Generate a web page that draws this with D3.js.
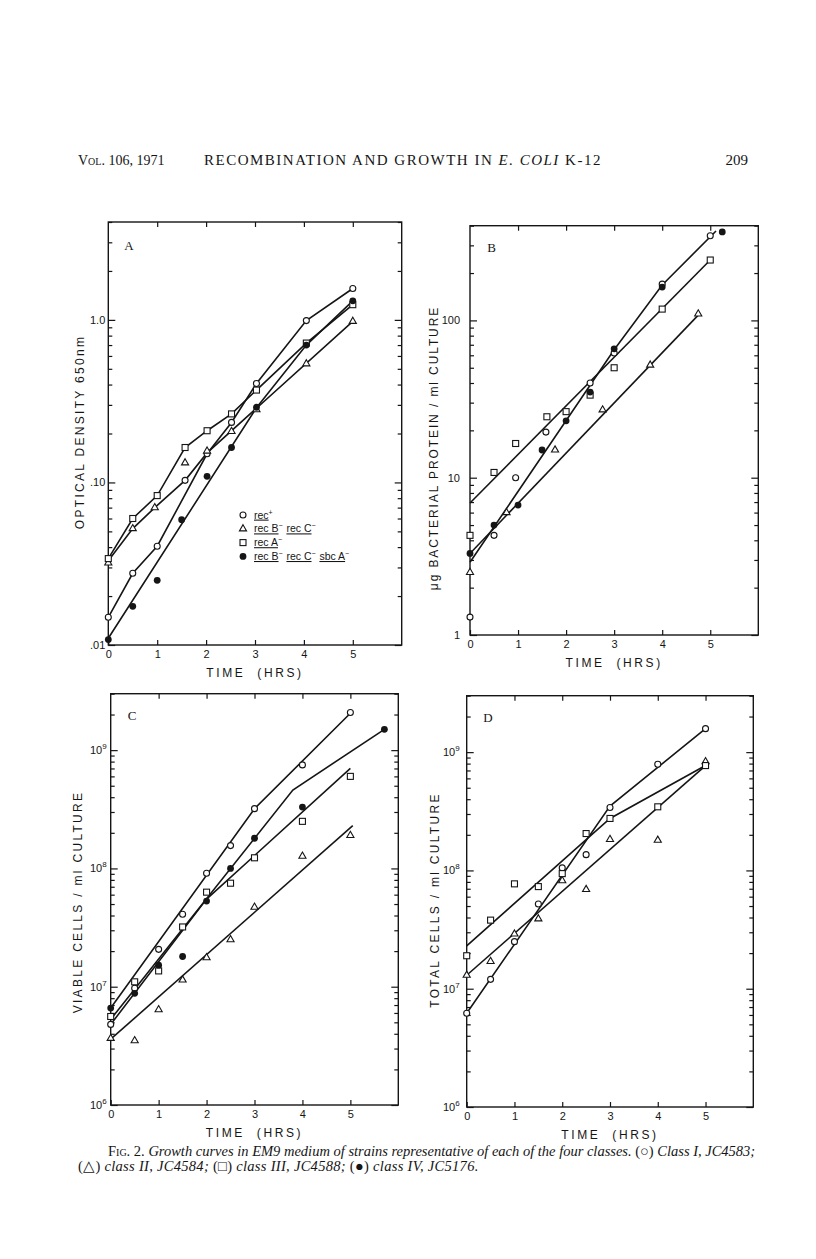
<!DOCTYPE html>
<html>
<head>
<meta charset="utf-8">
<script src="https://cdn.jsdelivr.net/npm/d3@7"></script>
<style>
body { margin: 0; background: #fff; }
text { fill: #151515; }
</style>
</head>
<body>
<svg id="page" width="816" height="1259"></svg>
<script>
// ---- data (time in hours) ----
const timeTicks = [0, 1, 2, 3, 4, 5];

// panel A : optical density 650nm
const aOpen   = [[0,0.0148],[0.5,0.0276],[1,0.0405],[1.57,0.103],[2.02,0.15],[2.52,0.234],[3.03,0.406],[4.05,0.99],[5,1.56]];
const aTri    = [[0,0.032],[0.5,0.052],[0.95,0.07],[1.57,0.132],[2.02,0.156],[2.52,0.206],[3.03,0.28],[4.05,0.537],[5,0.98]];
const aSquare = [[0,0.034],[0.5,0.06],[1,0.083],[1.57,0.164],[2.02,0.208],[2.52,0.264],[3.03,0.37],[4.05,0.72],[5,1.24]];
const aFilled = [[0,0.0108],[0.5,0.0173],[1,0.025],[1.5,0.059],[2.02,0.109],[2.52,0.164],[3.03,0.29],[4.05,0.70],[5,1.31]];
const aLines = [
  [[0,0.0148],[0.5,0.0276],[1,0.0405],[2.02,0.15],[2.52,0.234],[3.03,0.406],[4.05,0.99],[5,1.56]],
  [[0,0.033],[0.5,0.052],[0.95,0.07],[1.57,0.103],[2.02,0.152],[5,0.98]],
  [[0,0.034],[0.5,0.06],[1,0.083],[1.57,0.164],[2.02,0.208],[2.52,0.264],[3.03,0.37],[4.05,0.72],[5,1.24]],
  [[0,0.011],[3.03,0.288],[4.05,0.70],[5,1.31]]
];
const aYLabels = [[0.01, ".01"], [0.1, ".10"], [1, "1.0"]];

// panel B : ug bacterial protein / ml
const bOpen   = [[0,1.3],[0.5,4.3],[0.95,10],[1.58,19.5],[2.5,40],[3,62],[4,170],[5,345]];
const bTri    = [[0,2.5],[0.76,6.0],[1.77,15],[2.76,27],[3.75,52],[4.75,110]];
const bSquare = [[0,4.3],[0.5,10.8],[0.95,16.5],[1.6,24.4],[2,26.3],[2.5,33.5],[3,50],[4,118],[5,242]];
const bFilled = [[0,3.3],[0.5,5.0],[1,6.7],[1.5,15],[2,23],[2.5,35],[3,66],[4,163],[5.25,365]];
const bLines = [
  [[0,6.9],[5,242]],
  [[0,3.3],[4.75,108]],
  [[0,2.9],[3,65],[4,168],[5.12,370]]
];
const bYLabels = [[1, "1"], [10, "10"], [100, "100"]];

// panel C : viable cells / ml
const cOpen   = [[0,4.8e6],[0.5,9.7e6],[1,2.07e7],[1.5,4.1e7],[2,9.1e7],[2.5,1.56e8],[3,3.2e8],[4,7.5e8],[5,2.08e9]];
const cTri    = [[0,3.66e6],[0.5,3.5e6],[1,6.4e6],[1.5,1.14e7],[2,1.76e7],[2.5,2.5e7],[3,4.7e7],[4,1.27e8],[5,1.9e8]];
const cSquare = [[0,5.6e6],[0.5,1.1e7],[1,1.36e7],[1.5,3.2e7],[2,6.3e7],[2.5,7.5e7],[3,1.23e8],[4,2.5e8],[5,6.0e8]];
const cFilled = [[0,6.6e6],[0.5,8.8e6],[1,1.52e7],[1.5,1.8e7],[2,5.3e7],[2.5,1.0e8],[3,1.8e8],[4,3.3e8],[5.71,1.5e9]];
const cLines = [
  [[0,6.6e6],[3,3.2e8],[5,2.05e9]],
  [[0,5.3e6],[3.8,4.6e8],[5.71,1.5e9]],
  [[0,4.8e6],[2,5.5e7],[5,7.0e8]],
  [[0,3.6e6],[5.05,2.3e8]]
];
const cellLabels = [[1e6, "6"], [1e7, "7"], [1e8, "8"], [1e9, "9"]];

// panel D : total cells / ml
const dOpen   = [[0,6.2e6],[0.5,1.2e7],[1,2.5e7],[1.5,5.2e7],[2,1.05e8],[2.5,1.36e8],[3,3.4e8],[4,7.9e8],[5,1.58e9]];
const dTri    = [[0,1.3e7],[0.5,1.7e7],[1,2.9e7],[1.5,3.9e7],[2,8.2e7],[2.5,6.9e7],[3,1.83e8],[4,1.8e8],[5,8.3e8]];
const dSquare = [[0,1.9e7],[0.5,3.8e7],[1,7.7e7],[1.5,7.3e7],[2,9.4e7],[2.5,2.05e8],[3,2.75e8],[4,3.45e8],[5,7.7e8]];
const dLines = [
  [[0,6.2e6],[3,3.5e8],[5,1.58e9]],
  [[0,2.3e7],[3,2.75e8],[5,7.7e8]],
  [[0,1.3e7],[5,7.7e8]]
];

// legend of panel A
const legendKinds = ["open", "tri", "square", "filled"];
const legendTexts = [
  [["rec", "+"]],
  [["rec B", "\u2212"], ["rec C", "\u2212"]],
  [["rec A", "\u2212"]],
  [["rec B", "\u2212"], ["rec C", "\u2212"], ["sbc A", "\u2212"]]
];

// ---- drawing ----
const svg = d3.select("#page");
const ink = "#151515";
const sans = "'Liberation Sans', Arial, sans-serif";
const serif = "'Liberation Serif', 'Times New Roman', serif";

function drawMarker(g, kind, cx, cy) {
  if (kind === "open") {
    g.append("circle").attr("cx", cx).attr("cy", cy).attr("r", 3)
      .attr("fill", "#fff").attr("stroke", ink).attr("stroke-width", 1.1);
  } else if (kind === "filled") {
    g.append("circle").attr("cx", cx).attr("cy", cy).attr("r", 3.4).attr("fill", ink);
  } else if (kind === "square") {
    g.append("rect").attr("x", cx - 3).attr("y", cy - 3).attr("width", 6).attr("height", 6)
      .attr("fill", "#fff").attr("stroke", ink).attr("stroke-width", 1.1);
  } else {
    g.append("path").attr("transform", `translate(${cx},${cy})`)
      .attr("d", d3.symbol(d3.symbolTriangle, 22)())
      .attr("fill", "#fff").attr("stroke", ink).attr("stroke-width", 1.1);
  }
}

function drawPanel(p) {
  const x = d3.scaleLinear().domain([0, 6]).range(p.xr);
  const y = d3.scaleLog().domain(p.yd).range(p.yr);
  const [x0, x1] = p.xr, [yb, yt] = p.yr;
  const g = svg.append("g");

  const all = y.ticks();
  const major = all.filter(v => Math.abs(Math.log10(v) - Math.round(Math.log10(v))) < 1e-6);
  const minor = all.filter(v => !major.includes(v));

  const tidy = s => {
    s.select(".domain").remove();
    s.selectAll("line").attr("stroke", ink).attr("stroke-width", 1.2);
  };

  // minor + major ticks on both sides, pointing inward
  g.append("g").attr("transform", `translate(${x1},0)`)
    .call(d3.axisRight(y).tickValues(minor).tickSize(-4).tickFormat("")).call(tidy);
  g.append("g").attr("transform", `translate(${x1},0)`)
    .call(d3.axisRight(y).tickValues(major).tickSize(-7).tickFormat("")).call(tidy);
  g.append("g").attr("transform", `translate(${x0},0)`)
    .call(d3.axisLeft(y).tickValues(minor).tickSize(-4).tickFormat("")).call(tidy);

  const labelMap = new Map(p.yLabels);
  const left = g.append("g").attr("transform", `translate(${x0},0)`)
    .call(d3.axisLeft(y).tickValues(p.yLabels.map(d => d[0])).tickSize(-7)
      .tickPadding(p.padY).tickFormat(v => labelMap.get(v)))
    .call(tidy);
  left.selectAll("text").attr("font-family", sans).attr("font-size", 11).attr("fill", ink);
  if (p.power) {
    left.selectAll("text").each(function (v) {
      const t = d3.select(this).text(null);
      t.append("tspan").text("10");
      t.append("tspan").attr("dy", -5).attr("font-size", 8).text(labelMap.get(v));
    });
  }

  // time axis: bottom with labels, top ticks only
  const bottom = g.append("g").attr("transform", `translate(0,${yb})`)
    .call(d3.axisBottom(x).tickValues(timeTicks).tickSize(-5).tickPadding(5).tickFormat(d3.format("d")))
    .call(tidy);
  bottom.selectAll("text").attr("font-family", sans).attr("font-size", 11).attr("fill", ink);
  g.append("g").attr("transform", `translate(0,${yt})`)
    .call(d3.axisTop(x).tickValues(timeTicks.slice(1)).tickSize(-5).tickFormat("")).call(tidy);

  // frame
  g.append("rect").attr("x", x0).attr("y", yt).attr("width", x1 - x0).attr("height", yb - yt)
    .attr("fill", "none").attr("stroke", ink).attr("stroke-width", 1.4);

  // fitted lines
  const line = d3.line().x(d => x(d[0])).y(d => y(d[1]));
  p.lines.forEach(l => {
    g.append("path").attr("d", line(l)).attr("fill", "none")
      .attr("stroke", ink).attr("stroke-width", 1.6);
  });

  // data points
  p.series.forEach(([kind, pts]) => {
    pts.forEach(d => drawMarker(g, kind, x(d[0]), y(d[1])));
  });

  // letter, axis titles
  g.append("text").attr("x", p.letter[0]).attr("y", p.letter[1])
    .attr("font-family", serif).attr("font-size", 13).attr("text-anchor", "middle")
    .attr("dominant-baseline", "central").text(p.key);
  g.append("text").attr("x", x(3)).attr("y", yb + 28)
    .attr("font-family", sans).attr("font-size", 12).attr("letter-spacing", 2.6)
    .attr("text-anchor", "middle").attr("dominant-baseline", "central")
    .attr("xml:space", "preserve").text("TIME  (HRS)");
  g.append("text")
    .attr("transform", `translate(${p.title[0]},${p.title[1]}) rotate(-90)`)
    .attr("font-family", sans).attr("font-size", 12).attr("letter-spacing", p.title[2])
    .attr("text-anchor", "middle").attr("dominant-baseline", "central")
    .text(p.titleText);
  return { x, y, g };
}

const panA = drawPanel({
  key: "A", xr: [108.3, 401.7], yd: [0.01, 4], yr: [645, 222], padY: 3,
  yLabels: aYLabels, lines: aLines, letter: [129, 245],
  series: [["open", aOpen], ["tri", aTri], ["square", aSquare], ["filled", aFilled]],
  title: [80, 432, 2.3], titleText: "OPTICAL DENSITY 650nm"
});
drawPanel({
  key: "B", xr: [470, 758.3], yd: [1, 400], yr: [635, 225.7], padY: 10,
  yLabels: bYLabels, lines: bLines, letter: [491.7, 247],
  series: [["open", bOpen], ["tri", bTri], ["square", bSquare], ["filled", bFilled]],
  title: [434, 448, 1.9], titleText: "\u03bcg BACTERIAL PROTEIN / ml CULTURE"
});
drawPanel({
  key: "C", xr: [110.7, 398.3], yd: [1e6, 3e9], yr: [1105, 693.7], padY: 4, power: true,
  yLabels: cellLabels, lines: cLines, letter: [132, 715],
  series: [["open", cOpen], ["tri", cTri], ["square", cSquare], ["filled", cFilled]],
  title: [78, 902, 2.3], titleText: "VIABLE CELLS / ml CULTURE"
});
drawPanel({
  key: "D", xr: [466.7, 753.3], yd: [1e6, 3e9], yr: [1107, 695.7], padY: 7, power: true,
  yLabels: cellLabels, lines: dLines, letter: [488, 717],
  series: [["open", dOpen], ["tri", dTri], ["square", dSquare]],
  title: [435, 900, 2.3], titleText: "TOTAL CELLS / ml CULTURE"
});

// legend inside panel A
const leg = panA.g.append("g");
legendKinds.forEach((kind, i) => {
  const ly = 515 + i * 13.8;
  drawMarker(leg, kind, 243, ly);
  const t = leg.append("text").attr("x", 254).attr("y", ly + 3.6)
    .attr("font-family", sans).attr("font-size", 10.5);
  legendTexts[i].forEach((part, j) => {
    if (j > 0) t.append("tspan").text(" ");
    t.append("tspan").style("text-decoration", "underline").text(part[0]);
    t.append("tspan").attr("dy", -4).attr("font-size", 7).text(part[1]);
    t.append("tspan").attr("dy", 4).text("\u200a");
  });
});

// running head
svg.append("text").attr("x", 78).attr("y", 165).attr("font-family", serif).attr("font-size", 14)
  .style("font-variant", "small-caps").text("Vol. 106, 1971");
const head = svg.append("text").attr("x", 204).attr("y", 165).attr("font-family", serif)
  .attr("font-size", 15).attr("letter-spacing", 1.5);
head.append("tspan").text("RECOMBINATION AND GROWTH IN ");
head.append("tspan").attr("font-style", "italic").text("E. COLI");
head.append("tspan").text(" K-12");
svg.append("text").attr("x", 748).attr("y", 165).attr("text-anchor", "end")
  .attr("font-family", serif).attr("font-size", 15).text("209");

// caption
const cap1 = svg.append("text").attr("x", 108).attr("y", 1156).attr("font-family", serif).attr("font-size", 14.5);
cap1.append("tspan").style("font-variant", "small-caps").text("Fig. 2. ");
cap1.append("tspan").attr("font-style", "italic")
  .text("Growth curves in EM9 medium of strains representative of each of the four classes. ");
cap1.append("tspan").text("(\u25cb) ");
cap1.append("tspan").attr("font-style", "italic").text("Class I, JC4583;");
const cap2 = svg.append("text").attr("x", 78).attr("y", 1171).attr("font-family", serif)
  .attr("font-size", 14.5).attr("letter-spacing", 0.3);
cap2.append("tspan").text("(\u25b3) ");
cap2.append("tspan").attr("font-style", "italic").text("class II, JC4584; ");
cap2.append("tspan").text("(\u25a1) ");
cap2.append("tspan").attr("font-style", "italic").text("class III, JC4588; ");
cap2.append("tspan").text("(\u25cf) ");
cap2.append("tspan").attr("font-style", "italic").text("class IV, JC5176.");
</script>
</body>
</html>
